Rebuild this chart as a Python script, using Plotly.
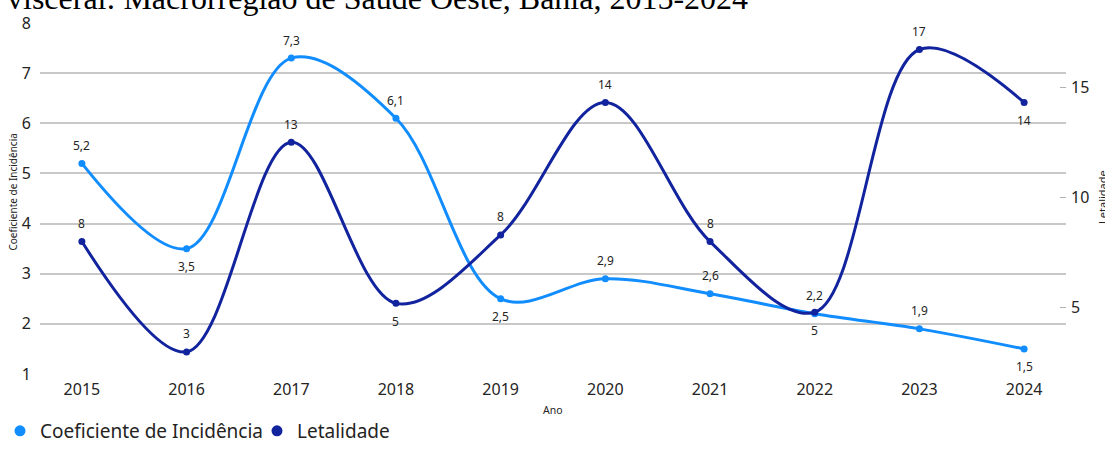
import plotly.graph_objects as go

anos = ["2015", "2016", "2017", "2018", "2019", "2020", "2021", "2022", "2023", "2024"]
incidencia = [5.2, 3.5, 7.3, 6.1, 2.5, 2.9, 2.6, 2.2, 1.9, 1.5]
letalidade = [8.0, 3.0, 12.5, 5.2, 8.3, 14.3, 8.0, 4.8, 16.7, 14.3]
pos_inc = ["top", "bottom", "top", "top", "bottom", "top", "top", "top", "top", "bottom"]
pos_let = ["top", "top", "top", "bottom", "top", "top", "top", "bottom", "top", "bottom"]

C_INC = "#118DFF"
C_LET = "#12239E"
TXT = "#252423"
FONT = "Noto Sans"

txt_inc = [f"{v:.1f}".replace(".", ",") for v in incidencia]
txt_let = [str(int(v + 0.5)) for v in letalidade]

fig = go.Figure()
fig.add_trace(go.Scatter(
    x=anos, y=incidencia, mode="lines+markers", name="Coeficiente de Incidência",
    line=dict(color=C_INC, width=3, shape="spline", smoothing=1.0),
    marker=dict(color=C_INC, size=7),
    showlegend=False, yaxis="y", cliponaxis=False))
fig.add_trace(go.Scatter(
    x=anos, y=letalidade, mode="lines+markers", name="Letalidade",
    line=dict(color=C_LET, width=3, shape="spline", smoothing=1.0),
    marker=dict(color=C_LET, size=7),
    showlegend=False, yaxis="y2", cliponaxis=False))
# legend entries (markers only)
fig.add_trace(go.Scatter(x=[None], y=[None], mode="markers", name="Coeficiente de Incidência",
                         marker=dict(color=C_INC, size=11)))
fig.add_trace(go.Scatter(x=[None], y=[None], mode="markers", name="Letalidade",
                         marker=dict(color=C_LET, size=11)))

annots = []
for i, (v, t, p) in enumerate(zip(incidencia, txt_inc, pos_inc)):
    annots.append(dict(x=i, y=v, xref="x", yref="y", text=t, showarrow=False,
                       yshift=18 if p == "top" else -18,
                       font=dict(family=FONT, size=12, color=TXT)))
for i, (v, t, p) in enumerate(zip(letalidade, txt_let, pos_let)):
    annots.append(dict(x=i, y=v, xref="x", yref="y2", text=t, showarrow=False,
                       yshift=18 if p == "top" else -18,
                       font=dict(family=FONT, size=12, color=TXT)))

annots += [
    dict(text="visceral: Macrorregião de Saúde Oeste, Bahia, 2015-2024",
         xref="paper", yref="paper", x=-0.0341, y=1.072, xanchor="left", yanchor="middle",
         showarrow=False, font=dict(family="Liberation Serif", size=32, color="#000000")),
    dict(text="Ano", xref="paper", yref="paper", x=0.5, y=-0.102, xanchor="center",
         yanchor="middle", showarrow=False, font=dict(size=10.5, color=TXT)),
    dict(text="Coeficiente de Incidência", xref="paper", yref="paper", x=-0.0263, y=0.517,
         xanchor="center", yanchor="middle",
         textangle=-90, showarrow=False, font=dict(size=10, color=TXT)),
    dict(text="Letalidade", xref="paper", yref="paper", x=1.0356, y=0.503,
         xanchor="center", yanchor="middle",
         textangle=-90, showarrow=False, font=dict(size=11, color=TXT)),
]

fig.update_layout(
    width=1105, height=450,
    margin=dict(l=40, r=39, t=21, b=75, pad=0),
    paper_bgcolor="white", plot_bgcolor="white",
    font=dict(family=FONT, color=TXT),
    xaxis=dict(type="category", categoryorder="array", categoryarray=anos,
               range=[-0.4, 9.4], showgrid=False, zeroline=False, showline=False,
               ticks="", tickfont=dict(size=16, color=TXT), ticklabelstandoff=4),
    yaxis=dict(range=[1, 8.0], dtick=1, tick0=1, showgrid=True, gridcolor="#c8c8c8",
               gridwidth=1.5, zeroline=False, showline=False, ticks="",
               tickfont=dict(size=16, color=TXT), ticklabelstandoff=8),
    yaxis2=dict(overlaying="y", side="right", range=[2.0, 17.9], tickvals=[5, 10, 15],
                showgrid=False, zeroline=False, showline=False, ticks="inside",
                ticklen=6, tickcolor="#b0b0b0", tickwidth=1,
                tickfont=dict(size=16, color=TXT), ticklabelstandoff=4),
    legend=dict(orientation="h", xref="container", yref="container", x=0.0, y=0.0,
                xanchor="left", yanchor="bottom", font=dict(size=19, color=TXT),
                itemsizing="trace", itemwidth=30, entrywidth=212, entrywidthmode="pixels",
                tracegroupgap=0, bgcolor="rgba(0,0,0,0)"),
    annotations=annots,
)

fig.write_html("out.html", config={"displayModeBar": False},
               post_script="document.body.style.margin='0';document.body.style.overflow='hidden';")
